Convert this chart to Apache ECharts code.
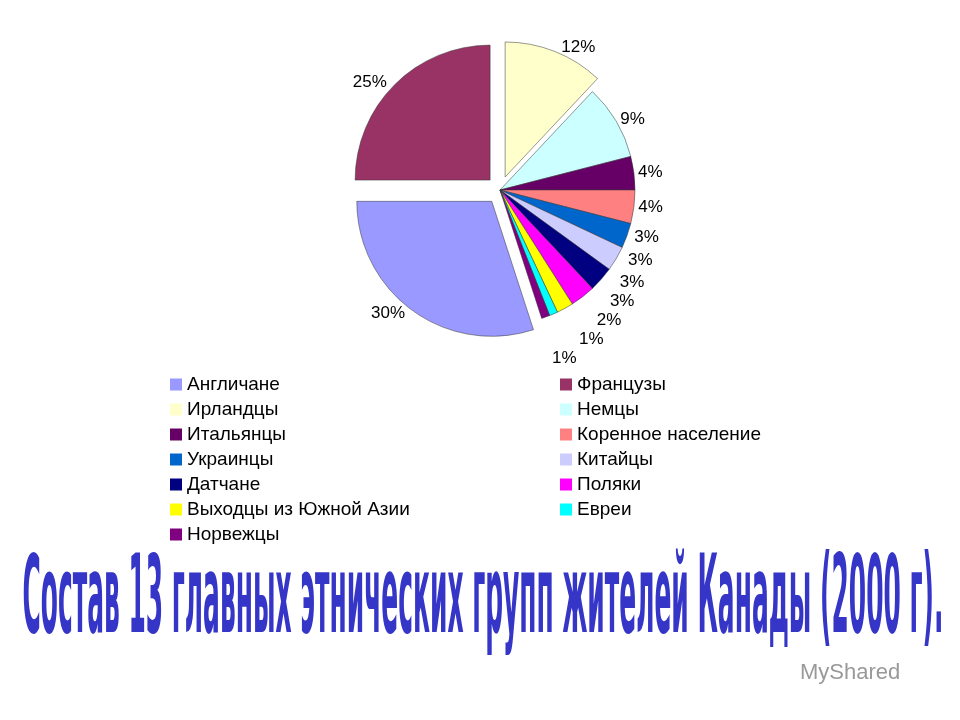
<!DOCTYPE html>
<html><head><meta charset="utf-8">
<script src="https://cdn.jsdelivr.net/npm/echarts@6/dist/echarts.min.js"></script>
<style>html,body{margin:0;background:#fff}#chart{width:960px;height:720px}</style>
</head><body><div id="chart"></div>
<script>
// groups clockwise from 12 o'clock
var groups = ["Ирландцы", "Немцы", "Итальянцы", "Коренное население", "Украинцы", "Китайцы",
  "Датчане", "Поляки", "Выходцы из Южной Азии", "Евреи", "Норвежцы", "Англичане", "Французы"];
var shares = [12, 9, 4, 4, 3, 3, 3, 3, 2, 1, 1, 30, 25];
var colors = ["#ffffcc", "#ccffff", "#660066", "#ff8080", "#0066cc", "#ccccff",
  "#000080", "#ff00ff", "#ffff00", "#00ffff", "#800080", "#9999ff", "#993366"];
var legendLeft = ["Англичане", "Ирландцы", "Итальянцы", "Украинцы", "Датчане", "Выходцы из Южной Азии", "Норвежцы"];
var legendRight = ["Французы", "Немцы", "Коренное население", "Китайцы", "Поляки", "Евреи"];
var exploded = ["Англичане", "Французы", "Ирландцы"];

var myChart = echarts.init(document.getElementById("chart"));
var legendStyle = {
  orient: "vertical", top: 370, itemGap: 6, itemWidth: 12, itemHeight: 12,
  icon: "rect", itemStyle: { borderWidth: 0 },
  textStyle: { fontSize: 19, fontFamily: "Arial", color: "#000" }
};

myChart.setOption({
  animation: false,
  legend: [
    Object.assign({ left: 165, data: legendLeft }, legendStyle),
    Object.assign({ left: 555, data: legendRight }, legendStyle)
  ],
  graphic: [
    {
      type: "text", left: 22, top: 548, scaleX: 0.63, scaleY: 2.45,
      style: {
        text: "Состав 13 главных этнических групп жителей Канады (2000 г).",
        font: "bold 44px 'DejaVu Sans Condensed'", fill: "#3535c8",
        stroke: "#fff", lineWidth: 1.5
      }
    },
    {
      type: "text", left: 800, top: 662,
      style: { text: "MyShared", font: "22px Arial", fill: "#999" }
    }
  ],
  series: [{
    type: "pie",
    center: [500, 190],
    radius: [0, 135],
    startAngle: 90,
    clockwise: true,
    selectedMode: "multiple",
    selectedOffset: 14,
    color: colors,
    label: {
      position: "outside", formatter: function (p) { return p.value + "%"; },
      fontSize: 17, fontFamily: "Arial", color: "#000"
    },
    labelLine: { show: false, length: 4, length2: 0 },
    itemStyle: { borderColor: "#333", borderWidth: 0.5 },
    data: groups.map(function (g, i) {
      return { name: g, value: shares[i], selected: exploded.indexOf(g) >= 0 };
    })
  }]
});
</script></body></html>
